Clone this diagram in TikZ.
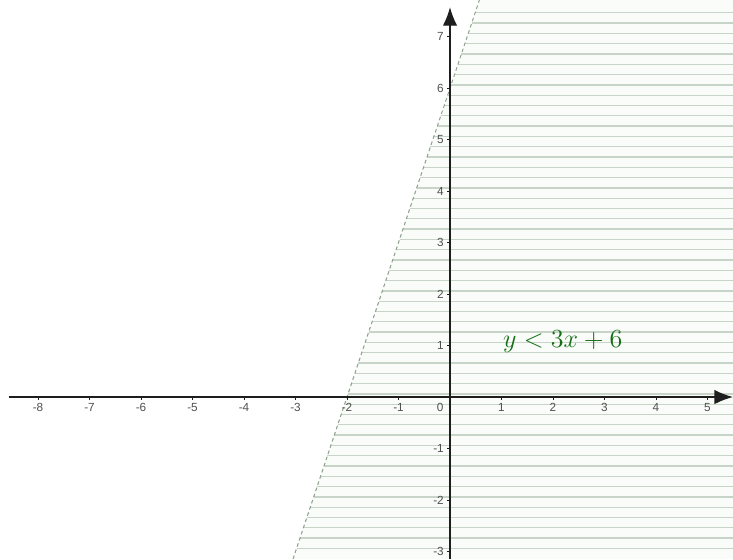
\documentclass[tikz,border=0pt]{standalone}
\usepackage{fontspec}
\setsansfont{Liberation Sans}
\usetikzlibrary{arrows.meta,positioning}
\definecolor{axisgrey}{RGB}{30,30,30}
\definecolor{ticktext}{RGB}{80,80,80}
\definecolor{hatch}{RGB}{200,212,200}
\definecolor{regionbg}{RGB}{249,252,249}
\definecolor{border}{RGB}{140,160,140}
\definecolor{labelgreen}{RGB}{20,110,20}

\begin{document}
\begin{tikzpicture}[
  axis/.style={-{Latex[length=3.6mm,width=2.8mm]}, draw=axisgrey, line width=0.75pt},
  hatchline/.style={draw=hatch, line width=0.7pt},
  boundary/.style={draw=border, dashed, dash pattern=on 2pt off 1.6pt, line width=0.55pt},
  ticklabel/.style={font=\sffamily\fontsize{6.5}{7}\selectfont, text=ticktext, inner sep=1pt},
]
  \useasboundingbox (-8.738,-3.146) rectangle (5.495,7.709);
  \begin{scope}
    \clip (-8.738,-3.146) rectangle (5.495,7.709);
    % half plane y < 3x + 6
    \fill[regionbg] (-3.049,-3.146) -- (0.570,7.709) -- (5.495,7.709) -- (5.495,-3.146) -- cycle;
    \foreach \k in {-15,...,37} {
      \pgfmathsetmacro{\yy}{0.06+0.2*\k}
      \pgfmathsetmacro{\xx}{(\yy-6)/3}
      \draw[hatchline] (\xx,\yy) -- (5.495,\yy);
    }
    \coordinate (lnbot) at (-3.049,-3.146);
    \coordinate (lntop) at (0.570,7.709);
    \draw[boundary] (lnbot) -- (lntop);
  \end{scope}
  % axes
  \coordinate (xstart) at (-8.57,0);
  \coordinate (xend) at (5.495,0);
  \coordinate (ystart) at (0,-3.146);
  \coordinate (yend) at (0,7.57);
  \draw[axis] (xstart) -- (xend);
  \draw[axis] (ystart) -- (yend);
  \foreach \x in {-8,...,-1,1,2,...,5} {
    \draw[axisgrey, line width=0.4pt] (\x,0) -- (\x,-0.06);
    \node[ticklabel] (xl\x) at (\x,-0.2) {\x};
  }
  \node[ticklabel] (xl0) at (-0.19,-0.2) {0};
  \foreach \y in {-3,...,-1,1,2,...,7} {
    \draw[axisgrey, line width=0.4pt] (0,\y) -- (-0.06,\y);
    \node[ticklabel, anchor=east] (yl\y) at (-0.08,\y) {\y};
  }
  \node[text=labelgreen, font=\fontsize{15.4}{18}\selectfont] (ineq) at (2.19,1.07) {$y<3x+6$};
\end{tikzpicture}
\end{document}
